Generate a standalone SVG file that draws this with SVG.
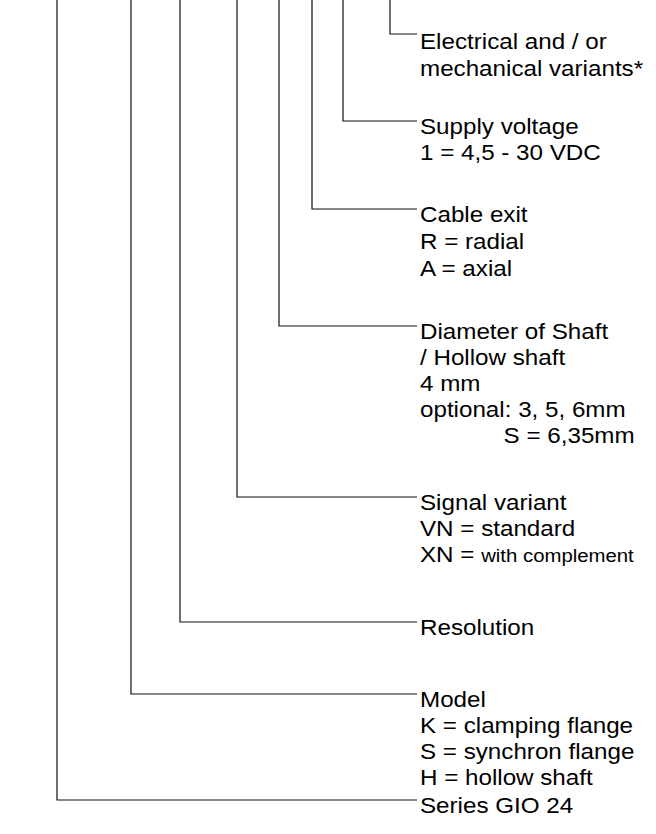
<svg xmlns="http://www.w3.org/2000/svg" width="656" height="834" viewBox="0 0 656 834">
<style>
text{font-family:"Liberation Sans",Arial,sans-serif;font-size:22px;fill:#000}
.c{fill:none;stroke:#111;stroke-width:1.2}
.sm{font-size:18.5px}
</style>
<rect width="656" height="834" fill="#fff"/>
<g id="connectors">
<polyline class="c" points="390,0 390,34 417,34"/>
<polyline class="c" points="343,0 343,121 417,121"/>
<polyline class="c" points="312,0 312,209 417,209"/>
<polyline class="c" points="279,0 279,326 417,326"/>
<polyline class="c" points="237,0 237,497 417,497"/>
<polyline class="c" points="180,0 180,622 417,622"/>
<polyline class="c" points="131,0 131,694 417,694"/>
<polyline class="c" points="57,0 57,800 417,800"/>
</g>
<g id="variants" transform="matrix(1.1,0,0,1,-42,0)"><text x="420" y="49">Electrical and / or</text><text x="420" y="76">mechanical variants*</text></g>
<g id="supply" transform="matrix(1.1,0,0,1,-42,0)"><text x="420" y="134">Supply voltage</text><text x="420" y="160">1 = 4,5 - 30 VDC</text></g>
<g id="cable" transform="matrix(1.1,0,0,1,-42,0)"><text x="420" y="222">Cable exit</text><text x="420" y="249">R = radial</text><text x="420" y="276">A = axial</text></g>
<g id="shaft" transform="matrix(1.1,0,0,1,-42,0)"><text x="420" y="339">Diameter of Shaft</text><text x="420" y="365">/ Hollow shaft</text><text x="420" y="391">4 mm</text><text x="420" y="417">optional: 3, 5, 6mm</text><text x="496" y="443">S = 6,35mm</text></g>
<g id="signal" transform="matrix(1.1,0,0,1,-42,0)"><text x="420" y="510">Signal variant</text><text x="420" y="536">VN = standard</text><text x="420" y="562">XN = <tspan class="sm">with complement</tspan></text></g>
<g id="resolution" transform="matrix(1.1,0,0,1,-42,0)"><text x="420" y="635">Resolution</text></g>
<g id="model" transform="matrix(1.1,0,0,1,-42,0)"><text x="420" y="707">Model</text><text x="420" y="733">K = clamping flange</text><text x="420" y="759">S = synchron flange</text><text x="420" y="785">H = hollow shaft</text></g>
<g id="series" transform="matrix(1.1,0,0,1,-42,0)"><text x="420" y="813">Series GIO 24</text></g>
</svg>
